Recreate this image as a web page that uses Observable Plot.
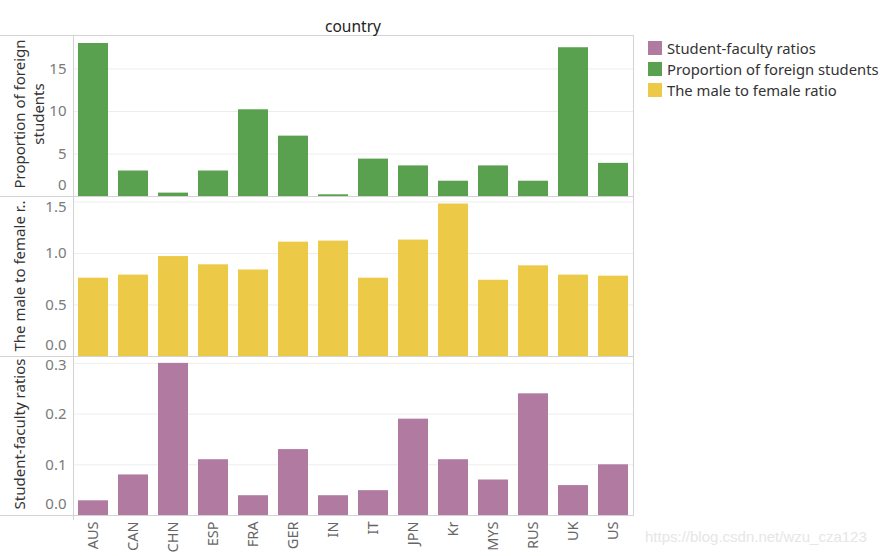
<!DOCTYPE html>
<html><head><meta charset="utf-8">
<script src="https://cdn.jsdelivr.net/npm/d3@7"></script>
<script src="https://cdn.jsdelivr.net/npm/@observablehq/plot@0.6"></script>
<style>
body{margin:0;background:#fff;font-family:"Noto Sans",sans-serif;}
#c{position:relative;width:888px;height:556px;overflow:hidden;background:#fff;}
.p{position:absolute;left:0;}
.hl{position:absolute;height:1px;background:#d3d3d3;}
.vl{position:absolute;width:1px;background:#d3d3d3;}
.yt{position:absolute;transform:translate(-50%,-50%) rotate(-90deg);white-space:nowrap;font-size:15px;color:#333;line-height:1;}
.lg{position:absolute;left:648px;font-size:14.8px;color:#333;white-space:nowrap;}
.lg span.sw{position:absolute;left:0;top:0;width:14px;height:14px;}
.lg span.tx{position:absolute;left:19px;top:-3px;}
</style></head><body><div id="c"></div><script>
const countries = ["AUS","CAN","CHN","ESP","FRA","GER","IN","IT","JPN","Kr","MYS","RUS","UK","US"];
const foreignStudents = [18.0, 3.0, 0.4, 3.0, 10.2, 7.1, 0.2, 4.4, 3.6, 1.8, 3.6, 1.8, 17.5, 3.9];
const maleFemale = [0.76, 0.79, 0.97, 0.89, 0.84, 1.11, 1.12, 0.76, 1.13, 1.48, 0.74, 0.88, 0.79, 0.78];
const studentFaculty = [0.029, 0.08, 0.30, 0.11, 0.039, 0.13, 0.039, 0.049, 0.19, 0.11, 0.07, 0.24, 0.059, 0.10];
const ticksForeign = [0, 5, 10, 15];
const ticksMale = [0, 0.5, 1.0, 1.5];
const ticksFaculty = [0, 0.1, 0.2, 0.3];
const seriesNames = ["Student-faculty ratios", "Proportion of foreign students", "The male to female ratio"];
const seriesColors = ["#b07aa1", "#59a14f", "#edc948"];

const c = document.getElementById("c");
function el(tag, cls, style, text) {
  const e = document.createElement(tag);
  if (cls) e.className = cls;
  Object.assign(e.style, style || {});
  if (text != null) e.textContent = text;
  c.appendChild(e);
  return e;
}

function panel(values, color, yMax, ticks, fmt, top, plotH, bottom, topShift) {
  const data = countries.map((k, i) => ({country: k, value: values[i]}));
  const inner = ticks.slice(1);
  const last = inner[inner.length - 1];
  const marks = [
    Plot.gridY(inner, {stroke: "#ededed", strokeOpacity: 1}),
    Plot.barY(data, {x: "country", y: "value", fill: color}),
    Plot.axisY({ticks: inner.slice(0, -1), tickSize: 0, tickPadding: 7, tickFormat: fmt, fill: "#7a7a7a", fontSize: 15, label: null}),
    Plot.axisY({ticks: [last], tickSize: 0, tickPadding: 7, tickFormat: fmt, fill: "#7a7a7a", fontSize: 15, label: null, dy: topShift}),
    Plot.axisY({ticks: [ticks[0]], tickSize: 0, tickPadding: 7, tickFormat: fmt, fill: "#7a7a7a", fontSize: 15, label: null, dy: -11})
  ];
  if (bottom) {
    marks.push(Plot.axisX({tickRotate: -90, tickSize: 0, tickPadding: 6, fill: "#666", fontSize: 14.5, label: null}));
  }
  const svg = Plot.plot({
    width: 640,
    height: plotH + (bottom ? 41 : 0),
    marginLeft: 73, marginRight: 7, marginTop: 0, marginBottom: bottom ? 41 : 0,
    style: {fontFamily: "'Noto Sans', sans-serif", background: "transparent", overflow: "visible"},
    x: {domain: countries, paddingInner: 0.25, paddingOuter: 0.125, axis: bottom ? undefined : null},
    y: {domain: [0, yMax]},
    marks
  });
  svg.classList.add("p");
  svg.style.top = top + "px";
  c.appendChild(svg);
}

panel(foreignStudents, seriesColors[1], 18.94, ticksForeign, d3.format("d"), 35, 161, false, 0);
panel(maleFemale, seriesColors[2], 1.553, ticksMale, d3.format(".1f"), 196, 160, false, 5);
panel(studentFaculty, seriesColors[0], 0.3136, ticksFaculty, d3.format(".1f"), 356, 159, true, 1.5);

// pane borders
[35, 196, 355.5, 515].forEach(y => el("div", "hl", {left: "0px", top: Math.round(y) + "px", width: "634px"}));
el("div", "vl", {left: "73px", top: "35px", height: "485px"});
el("div", "vl", {left: "633px", top: "35px", height: "481px"});

// header
el("div", null, {position: "absolute", left: "353px", top: "26px", transform: "translate(-50%,-50%)", fontSize: "15.5px", fontWeight: "normal", color: "#222", whiteSpace: "nowrap"}, "country");

// axis titles
el("div", "yt", {left: "19px", top: "114px"}, "Proportion of foreign");
el("div", "yt", {left: "38px", top: "114px"}, "students");
el("div", "yt", {left: "19px", top: "276px"}, "The male to female r..");
el("div", "yt", {left: "19px", top: "434px"}, "Student-faculty ratios");

// legend
seriesNames.forEach((n, i) => {
  const row = el("div", "lg", {top: (41 + i * 21) + "px"});
  const sw = document.createElement("span"); sw.className = "sw"; sw.style.background = seriesColors[i]; row.appendChild(sw);
  const tx = document.createElement("span"); tx.className = "tx"; tx.textContent = n; row.appendChild(tx);
});

// watermark
el("div", null, {position: "absolute", left: "645px", top: "528px", fontSize: "15px", fontFamily: "'Liberation Sans', Arial, sans-serif", color: "#e6e6e6", whiteSpace: "nowrap"}, "https://blog.csdn.net/wzu_cza123");
</script></body></html>
